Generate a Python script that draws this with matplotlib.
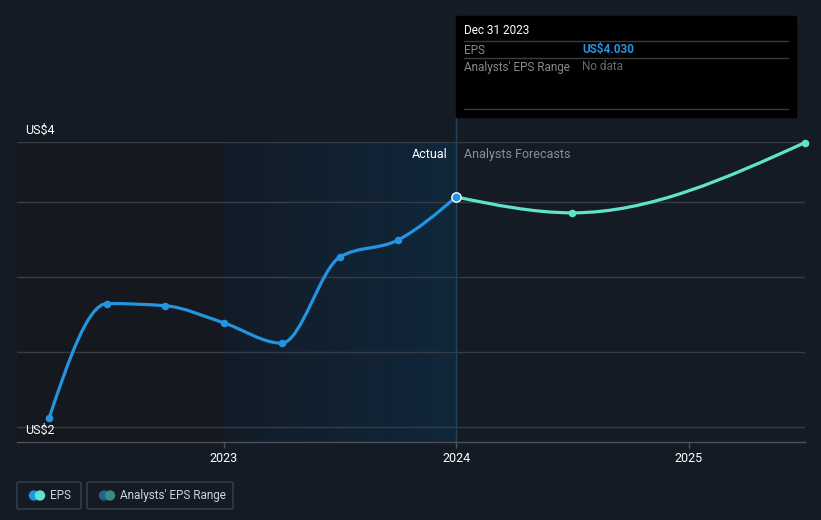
import numpy as np
import matplotlib
matplotlib.use('Agg')
import matplotlib.pyplot as plt
from matplotlib.path import Path
from matplotlib.patches import PathPatch, FancyBboxPatch, Rectangle, Ellipse

plt.rcParams['font.family'] = ['Roboto', 'DejaVu Sans']

# data (EPS, US$)
actual_t = [2022.25, 2022.5, 2022.75, 2023.0, 2023.25, 2023.5, 2023.75, 2024.0]
actual_eps = [2.08, 3.09, 3.07, 2.92, 2.74, 3.50, 3.65, 4.03]
forecast_t = [2024.0, 2024.5, 2025.5]
forecast_eps = [4.03, 3.89, 4.51]
year_ticks = [2023, 2024, 2025]

BG = '#151b25'
BLUE = '#2394df'
TEAL = '#5fe3cc'
GRID = '#363c46'


def monotone_path(xs, ys):
    # d3-style monotoneX curve as cubic bezier segments
    xs = np.asarray(xs, float)
    ys = np.asarray(ys, float)
    n = len(xs)
    h = np.diff(xs)
    s = np.diff(ys) / h
    t = np.zeros(n)
    for i in range(1, n - 1):
        p = (s[i - 1] * h[i] + s[i] * h[i - 1]) / (h[i - 1] + h[i])
        t[i] = (np.sign(s[i - 1]) + np.sign(s[i])) * min(abs(s[i - 1]), abs(s[i]), 0.5 * abs(p))
    t[0] = (3 * s[0] - t[1]) / 2
    t[-1] = (3 * s[-1] - t[-2]) / 2
    verts = [(xs[0], ys[0])]
    codes = [Path.MOVETO]
    for i in range(n - 1):
        dx = h[i] / 3
        verts += [(xs[i] + dx, ys[i] + dx * t[i]),
                  (xs[i + 1] - dx, ys[i + 1] - dx * t[i + 1]),
                  (xs[i + 1], ys[i + 1])]
        codes += [Path.CURVE4] * 3
    return Path(verts, codes)


fig = plt.figure(figsize=(8.21, 5.20), dpi=100, facecolor=BG)
W, H = 821, 520
ax = fig.add_axes([17 / W, 1 - 442 / H, (805 - 17) / W, 300 / H])
ax.set_facecolor(BG)

x0, x1 = 2022.112, 2025.5
y0, y1 = 1.868, 4.515

# shaded regions
ax.add_patch(Rectangle((x0, y0), 2023 - x0, y1 - y0, color='#15181f', zorder=0, lw=0))
grad = np.linspace(0, 1, 256).reshape(1, -1)
c0 = np.array([0x13, 0x1c, 0x28]) / 255
c1 = np.array([0x10, 0x27, 0x3b]) / 255
img = c0 + (c1 - c0) * grad[..., None]
ax.imshow(img, extent=[2023, 2024, y0, y1], aspect='auto', zorder=0.5, interpolation='bilinear')
ax.set_xlim(x0, x1)
ax.set_ylim(y0, y1)

# gridlines
for g in [2.0, 2.662, 3.324, 3.986, 4.515]:
    ax.axhline(g, color=GRID, lw=1, zorder=1)

# divider between actual and forecast
ax.plot([2024, 2024], [y0, y1 + 0.22], color='#24445a', lw=1, zorder=1.5, clip_on=False)

# lines
ax.add_patch(PathPatch(monotone_path(actual_t, actual_eps), fill=False, ec=BLUE, lw=2.3, zorder=3,
                       capstyle='round'))
ax.add_patch(PathPatch(monotone_path(forecast_t, forecast_eps), fill=False, ec=TEAL, lw=2.3, zorder=3,
                       capstyle='round'))
ax.scatter(actual_t[:-1], actual_eps[:-1], s=30, color=BLUE, zorder=4, lw=0)
ax.scatter(forecast_t[1:], forecast_eps[1:], s=30, color=TEAL, zorder=4, lw=0, clip_on=False)
ax.scatter([actual_t[-1]], [actual_eps[-1]], s=45, color=BLUE, ec='white', lw=1.0, zorder=5)

# axes styling
for sp in ['top', 'right', 'left']:
    ax.spines[sp].set_visible(False)
ax.spines['bottom'].set_color('#4a505a')
ax.spines['bottom'].set_linewidth(1)
ax.set_yticks([])
ax.set_xticks(year_ticks)
ax.set_xticklabels([str(y) for y in year_ticks])
ax.tick_params(axis='x', colors='#4a505a', length=4, width=1, labelcolor='white', labelsize=9, pad=3)

# y labels
fig.text(25 / W, 1 - 130 / H, 'US$4', color='white', fontsize=9, va='center', ha='left')
fig.text(25 / W, 1 - 430 / H, 'US$2', color='white', fontsize=9, va='center', ha='left')

# actual / forecast labels
fig.text(448 / W, 1 - 154 / H, 'Actual', color='white', fontsize=9, va='center', ha='right')
fig.text(464 / W, 1 - 154 / H, 'Analysts Forecasts', color='#8a8f98', fontsize=9, va='center', ha='left')

# tooltip
fig.patches.append(Rectangle((456 / W, 1 - 117 / H), 340 / W, 101 / H, transform=fig.transFigure,
                             color='black', zorder=10))
for yy in [41, 58, 109]:
    fig.lines.append(plt.Line2D([464 / W, 788 / W], [1 - yy / H] * 2, transform=fig.transFigure,
                                color='#3c3c3c', lw=1, zorder=11))
fig.text(464 / W, 1 - 31 / H, 'Dec 31 2023', color='white', fontsize=8.5, va='center', zorder=12)
fig.text(464 / W, 1 - 50 / H, 'EPS', color='#8a8a8a', fontsize=8.5, va='center', zorder=12)
fig.text(582 / W, 1 - 50 / H, 'US$4.030', color=BLUE, fontsize=8.5, va='center', fontweight='bold', zorder=12)
fig.text(464 / W, 1 - 67 / H, "Analysts' EPS Range", color='#8a8a8a', fontsize=8.5, va='center', zorder=12)
fig.text(582 / W, 1 - 67 / H, 'No data', color='#6a6a6a', fontsize=8.5, va='center', zorder=12)

# legend
def legend_box(xl, xr, c_a, c_b, label):
    fig.patches.append(FancyBboxPatch((xl / W, 1 - 509 / H), (xr - xl) / W, 27 / H,
                                      boxstyle='round,pad=0,rounding_size=0.003',
                                      transform=fig.transFigure, fc='none', ec='#3d434c', lw=1))
    fig.patches.append(Ellipse(((xl + 17) / W, 1 - 495.5 / H), 9 / W, 9 / H, transform=fig.transFigure,
                               color=c_a))
    fig.patches.append(Ellipse(((xl + 23) / W, 1 - 495.5 / H), 9 / W, 9 / H, transform=fig.transFigure,
                               color=c_b))
    fig.text((xl + 33) / W, 1 - 495.5 / H, label, color='#d0d3d8', fontsize=8.5, va='center')

legend_box(17, 81, BLUE, TEAL, 'EPS')
legend_box(87, 233, '#25608c', '#3e8a80', "Analysts' EPS Range")

fig.savefig('out.png', dpi=100, facecolor=BG)
